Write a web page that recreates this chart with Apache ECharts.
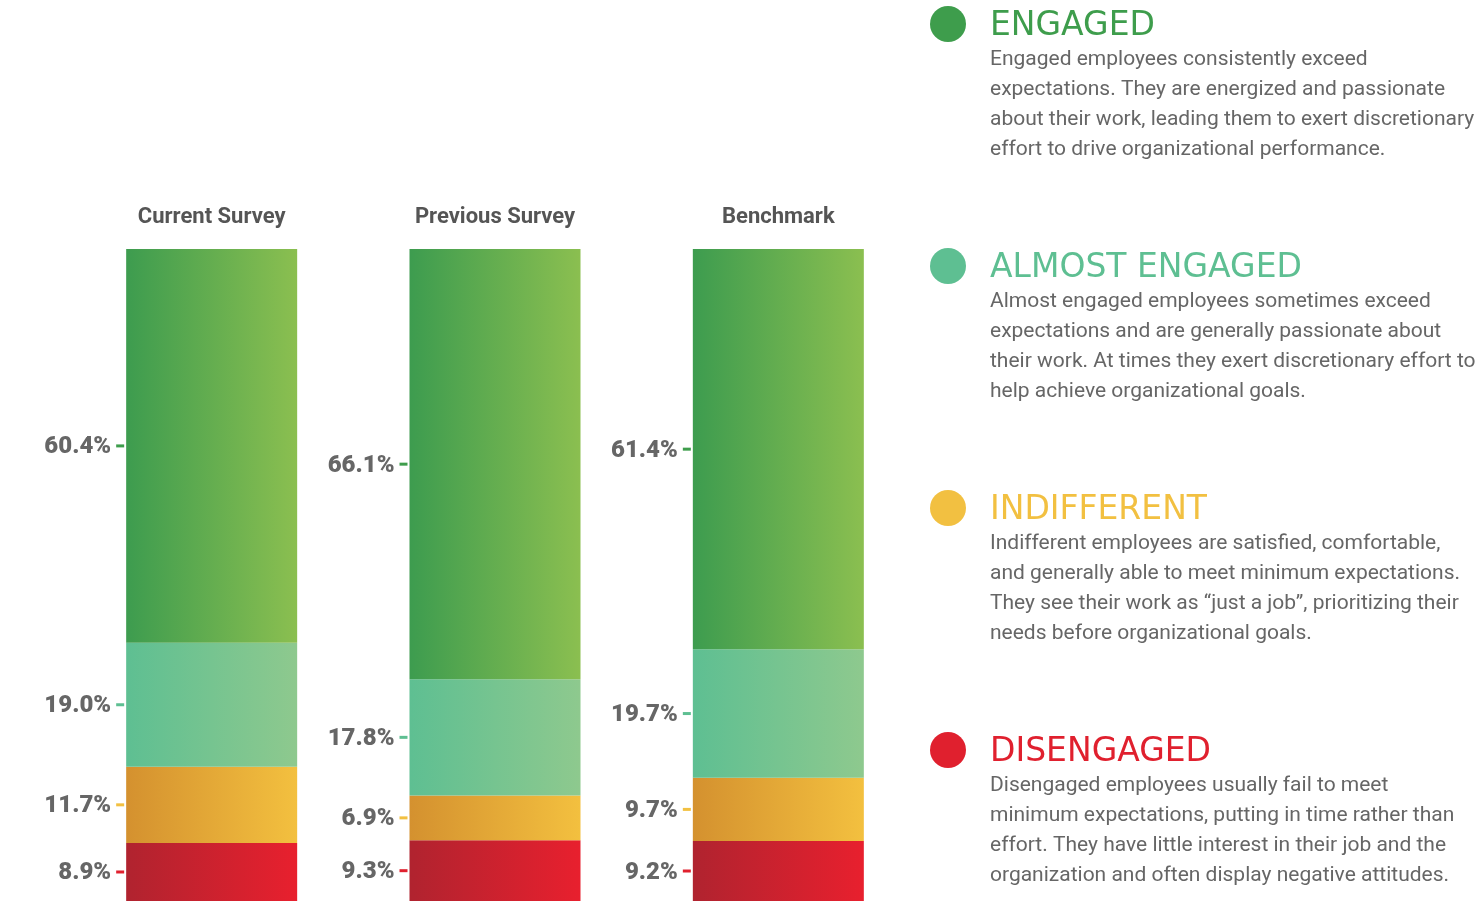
<!DOCTYPE html>
<html>
<head>
<meta charset="utf-8">
<title>Engagement</title>
<script src="https://cdn.jsdelivr.net/npm/echarts@6/dist/echarts.min.js"></script>
<style>
	html, body { margin:0; padding:0; background:#fff; }
	#main { width:1481px; height:901px; }
</style>
</head>
<body>
<div id="main"></div>
<script>
// categories (bars)
var surveys = ['Current Survey', 'Previous Survey', 'Benchmark'];

// series values, in %, bottom to top
var disengaged = [8.9, 9.3, 9.2];
var indifferent = [11.7, 6.9, 9.7];
var almostEngaged = [19.0, 17.8, 19.7];
var engaged = [60.4, 66.1, 61.4];

// legend texts
var groupNames = ['ENGAGED', 'ALMOST ENGAGED', 'INDIFFERENT', 'DISENGAGED'];
var groupTexts = [
	['Engaged employees consistently exceed', 'expectations. They are energized and passionate', 'about their work, leading them to exert discretionary', 'effort to drive organizational performance.'],
	['Almost engaged employees sometimes exceed', 'expectations and are generally passionate about', 'their work. At times they exert discretionary effort to', 'help achieve organizational goals.'],
	['Indifferent employees are satisfied, comfortable,', 'and generally able to meet minimum expectations.', 'They see their work as \u201cjust a job\u201d, prioritizing their', 'needs before organizational goals.'],
	['Disengaged employees usually fail to meet', 'minimum expectations, putting in time rather than', 'effort. They have little interest in their job and the', 'organization and often display negative attitudes.']
];

// colours: [left of gradient, right of gradient, dot/title]
var engagedCol = ['#3d9c4f', '#8bbf50', '#3e9d4c'];
var almostCol = ['#5ebf92', '#8ec98e', '#5ebf92'];
var indiffCol = ['#d4912f', '#f3c03f', '#f2c041'];
var disengCol = ['#b0232f', '#e8202e', '#e0202e'];

var chart = echarts.init(document.getElementById('main'));

//横向渐变
function grad(c){
	return {
		type:'linear', x:0, y:0, x2:1, y2:0,
		colorStops:[{offset:0, color:c[0]}, {offset:1, color:c[1]}]
	};
}

//柱子左侧的数值和小刻度
function makeSeries(name, data, c){
	return {
		name: name,
		type: 'bar',
		stack: 'all',
		barWidth: 171,
		data: data,
		itemStyle: { color: grad(c) },
		label: {
			show: true,
			position: 'left',
			distance: 2,
			formatter: function(p){ return '{v|' + p.value.toFixed(1) + '%}{t|}'; },
			rich: {
				v: { color:'#666', fontFamily:'Roboto', fontWeight:900, fontSize:24, padding:[3,5,0,0] },
				t: { width:8, height:3, backgroundColor:c[2] }
			}
		}
	};
}

var graphics = [];
var tops = [24, 266, 508, 750];
var dotCols = [engagedCol[2], almostCol[2], indiffCol[2], disengCol[2]];
for(var i=0;i<groupNames.length;i++){
	graphics.push({
		type:'circle', shape:{cx:948, cy:tops[i], r:18},
		style:{fill:dotCols[i]}
	});
	graphics.push({
		type:'text', x:990, y:tops[i] + 2,
		style:{text:groupNames[i], fill:dotCols[i], fontFamily:'DejaVu Sans', fontWeight:'normal', fontSize:33, verticalAlign:'middle'}
	});
	for(var j=0;j<groupTexts[i].length;j++){
		graphics.push({
			type:'text', x:990, y:tops[i] + 36 + j*30,
			style:{text:groupTexts[i][j], fill:'#666', fontFamily:'Roboto', fontSize:21, verticalAlign:'middle'}
		});
	}
}

var option = {
	animation: false,
	grid: { left:70, right:561, top:249, bottom:-2 },
	xAxis: {
		type: 'category',
		position: 'top',
		data: surveys,
		axisLine: { show:false },
		axisTick: { show:false },
		axisLabel: { color:'#555', fontFamily:'Roboto', fontWeight:'bold', fontSize:22, margin:21 }
	},
	yAxis: {
		type: 'value',
		min: 0,
		max: 100,
		show: false
	},
	series: [
		makeSeries('Disengaged', disengaged, disengCol),
		makeSeries('Indifferent', indifferent, indiffCol),
		makeSeries('Almost Engaged', almostEngaged, almostCol),
		makeSeries('Engaged', engaged, engagedCol)
	],
	graphic: graphics
};

chart.setOption(option);
</script>
</body>
</html>
